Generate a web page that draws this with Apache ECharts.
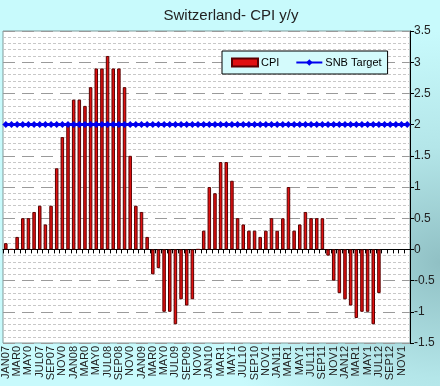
<!DOCTYPE html>
<html><head><meta charset="utf-8">
<script src="https://cdn.jsdelivr.net/npm/echarts@6/dist/echarts.min.js"></script>
<style>html,body{margin:0;padding:0;}#c{width:440px;height:386px;}</style>
</head><body><div id="c"></div>
<script>
const months = [];
const monNames = ['JAN','FEB','MAR','APR','MAY','JUN','JUL','AUG','SEP','OCT','NOV','DEC'];
for (const yr of ['07','08','09','10','11','12']) for (const m of monNames) months.push(m + yr);

const tickLabels = ['JAN07','MAR0','MAY0','JUL07','SEP07','NOV0','JAN08','MAR0','MAY0','JUL08','SEP08','NOV0',
  'JAN09','MAR0','MAY0','JUL09','SEP09','NOV0','JAN10','MAR1','MAY1','JUL10','SEP10','NOV1',
  'JAN11','MAR1','MAY1','JUL11','SEP11','NOV1','JAN12','MAR1','MAY1','JUL12','SEP12','NOV1'];

const cpi = [
  0.1, 0.0, 0.2, 0.5, 0.5, 0.6, 0.7, 0.4, 0.7, 1.3, 1.8, 2.0,
  2.4, 2.4, 2.3, 2.6, 2.9, 2.9, 3.1, 2.9, 2.9, 2.6, 1.5, 0.7,
  0.6, 0.2, -0.4, -0.3, -1.0, -1.0, -1.2, -0.8, -0.9, -0.8, 0.0, 0.3,
  1.0, 0.9, 1.4, 1.4, 1.1, 0.5, 0.4, 0.3, 0.3, 0.2, 0.3, 0.5,
  0.3, 0.5, 1.0, 0.3, 0.4, 0.6, 0.5, 0.5, 0.5, -0.1, -0.5, -0.7,
  -0.8, -0.9, -1.1, -1.0, -1.0, -1.2, -0.7
];

const snbTarget = [
  2,2,2,2,2,2,2,2,2,2,2,2,
  2,2,2,2,2,2,2,2,2,2,2,2,
  2,2,2,2,2,2,2,2,2,2,2,2,
  2,2,2,2,2,2,2,2,2,2,2,2,
  2,2,2,2,2,2,2,2,2,2,2,2,
  2,2,2,2,2,2,2,2,2,2,2,2
];

const chart = echarts.init(document.getElementById('c'), null, {renderer: 'canvas'});
const font = 'Arial, "Liberation Sans", sans-serif';
chart.setOption({
  animation: false,
  backgroundColor: {
    type: 'radial', x: 1.0, y: 0.68, r: 0.6,
    colorStops: [{offset: 0, color: '#90c0c4'}, {offset: 0.5, color: '#b4e6e9'}, {offset: 1, color: '#c8fafc'}]
  },
  title: {
    text: 'Switzerland- CPI y/y', left: 226, top: 3, textAlign: 'center',
    textStyle: {fontFamily: font, fontSize: 15, fontWeight: 'normal', color: '#222'}
  },
  legend: {
    orient: 'horizontal', left: 222, top: 51,
    padding: [6, 6, 6, 9], itemGap: 16,
    backgroundColor: '#d4fbfc', borderColor: '#000', borderWidth: 1,
    itemWidth: 26, itemHeight: 8,
    textStyle: {fontFamily: font, fontSize: 11, color: '#000', padding: [0, 0, 0, -2]},
    data: [{name: 'CPI', icon: 'rect'}, {name: 'SNB Target'}]
  },
  grid: {
    left: 3, right: 30, top: 31, bottom: 43, show: true,
    backgroundColor: '#ffffff', borderColor: '#7f9a9a', borderWidth: 1
  },
  xAxis: [{
    type: 'category', data: months, boundaryGap: true,
    axisLine: {show: false, onZero: false},
    axisTick: {show: false},
    axisLabel: {
      interval: 0, rotate: 90, margin: 3,
      fontFamily: font, fontSize: 11, color: '#222',
      formatter: (v, i) => (i % 2 === 0 ? tickLabels[i / 2] : '')
    },
    splitLine: {show: false}
  }, {
    type: 'category', data: months, boundaryGap: true, position: 'bottom',
    axisLine: {show: true, onZero: true, lineStyle: {color: '#000', width: 1}},
    axisTick: {show: true, length: 4, interval: 0, lineStyle: {color: '#000'}},
    axisLabel: {show: false},
    splitLine: {show: false}
  }],
  yAxis: {
    type: 'value', position: 'right', min: -1.5, max: 3.5, interval: 0.5,
    axisLine: {show: true, lineStyle: {color: '#000'}},
    axisTick: {show: true, length: 4, lineStyle: {color: '#000'}},
    axisLabel: {fontFamily: font, fontSize: 12, color: '#222', margin: 4},
    splitLine: {show: true, lineStyle: {color: '#9a9a9a', type: [12, 7], width: 1}},
    minorTick: {show: false, splitNumber: 5},
    minorSplitLine: {show: true, lineStyle: {color: '#c8c8c8', type: [3, 2], width: 1}}
  },
  series: [{
    name: 'CPI', type: 'bar', data: cpi, xAxisIndex: 0,
    barWidth: 3.5,
    itemStyle: {color: '#e01010', borderColor: '#5a0000', borderWidth: 1}
  }, {
    name: 'SNB Target', type: 'line', data: snbTarget, xAxisIndex: 0,
    symbol: 'diamond', symbolSize: 7,
    lineStyle: {color: '#0000ee', width: 3},
    itemStyle: {color: '#0000ee'}
  }]
});
</script>
</body></html>
